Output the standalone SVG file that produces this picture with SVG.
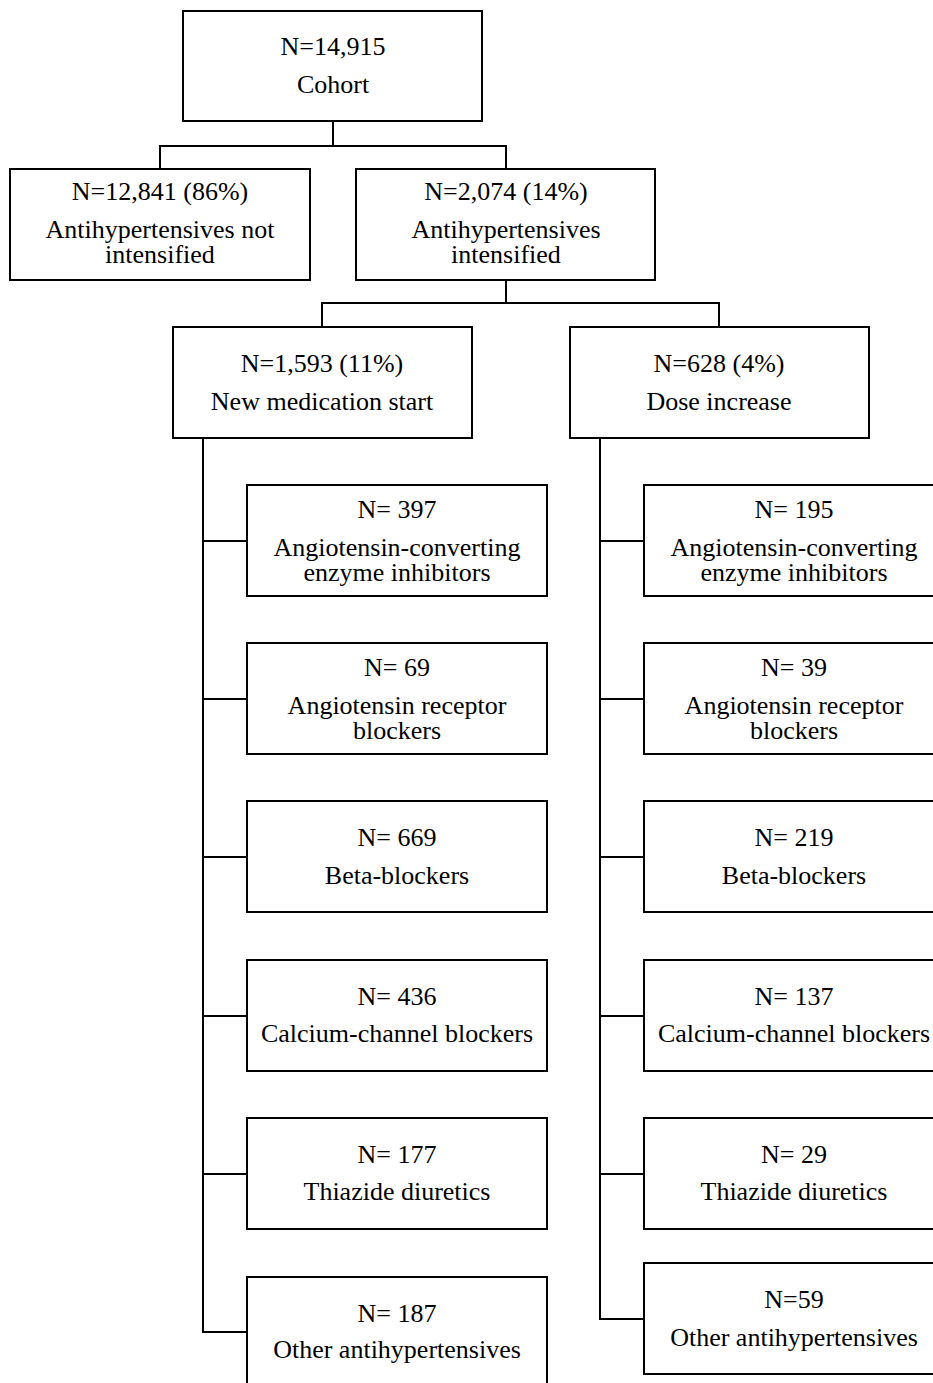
<svg xmlns="http://www.w3.org/2000/svg" width="933" height="1383" viewBox="0 0 933 1383">
<style>
.box{fill:#fff;stroke:#000;stroke-width:2}
.t{font-family:"Liberation Serif","Times New Roman",serif;font-size:26px;fill:#000;text-anchor:middle}
.c{fill:none;stroke:#000;stroke-width:2;stroke-linecap:square}
</style>
<rect width="933" height="1383" fill="#fff"/>
<g id="connectors">
<path class="c" d="M333 121V146M160 169V146H506V169"/>
<path class="c" d="M506 280V303M322 327V303H719V327"/>
<path class="c" d="M203 438V1332H247M203 541H247M203 699H247M203 857H247M203 1016H247M203 1174H247"/>
<path class="c" d="M600 438V1319H644M600 541H644M600 699H644M600 857H644M600 1016H644M600 1174H644"/>
</g>
<g id="cohort"><rect class="box" x="183" y="11" width="299" height="110"/><text class="t" x="333" y="55">N=14,915</text><text class="t" x="333" y="93">Cohort</text></g>
<g id="not-intensified"><rect class="box" x="10" y="169" width="300" height="111"/><text class="t" x="160" y="200">N=12,841 (86%)</text><text class="t" x="160" y="238">Antihypertensives not</text><text class="t" x="160" y="263">intensified</text></g>
<g id="intensified"><rect class="box" x="356" y="169" width="299" height="111"/><text class="t" x="506" y="200">N=2,074 (14%)</text><text class="t" x="506" y="238">Antihypertensives</text><text class="t" x="506" y="263">intensified</text></g>
<g id="new-med"><rect class="box" x="173" y="327" width="299" height="111"/><text class="t" x="322" y="372">N=1,593 (11%)</text><text class="t" x="322" y="410">New medication start</text></g>
<g id="dose"><rect class="box" x="570" y="327" width="299" height="111"/><text class="t" x="719" y="372">N=628 (4%)</text><text class="t" x="719" y="410">Dose increase</text></g>

<g id="n-ace"><rect class="box" x="247" y="485" width="300" height="111"/><text class="t" x="397" y="518">N= 397</text><text class="t" x="397" y="556">Angiotensin-converting</text><text class="t" x="397" y="581">enzyme inhibitors</text></g>
<g id="n-arb"><rect class="box" x="247" y="643" width="300" height="111"/><text class="t" x="397" y="676">N= 69</text><text class="t" x="397" y="714">Angiotensin receptor</text><text class="t" x="397" y="739">blockers</text></g>
<g id="n-bb"><rect class="box" x="247" y="801" width="300" height="111"/><text class="t" x="397" y="846">N= 669</text><text class="t" x="397" y="884">Beta-blockers</text></g>
<g id="n-ccb"><rect class="box" x="247" y="960" width="300" height="111"/><text class="t" x="397" y="1005">N= 436</text><text class="t" x="397" y="1042">Calcium-channel blockers</text></g>
<g id="n-thz"><rect class="box" x="247" y="1118" width="300" height="111"/><text class="t" x="397" y="1163">N= 177</text><text class="t" x="397" y="1200">Thiazide diuretics</text></g>
<g id="n-oth"><rect class="box" x="247" y="1277" width="300" height="111"/><text class="t" x="397" y="1322">N= 187</text><text class="t" x="397" y="1358">Other antihypertensives</text></g>

<g id="d-ace"><rect class="box" x="644" y="485" width="300" height="111"/><text class="t" x="794" y="518">N= 195</text><text class="t" x="794" y="556">Angiotensin-converting</text><text class="t" x="794" y="581">enzyme inhibitors</text></g>
<g id="d-arb"><rect class="box" x="644" y="643" width="300" height="111"/><text class="t" x="794" y="676">N= 39</text><text class="t" x="794" y="714">Angiotensin receptor</text><text class="t" x="794" y="739">blockers</text></g>
<g id="d-bb"><rect class="box" x="644" y="801" width="300" height="111"/><text class="t" x="794" y="846">N= 219</text><text class="t" x="794" y="884">Beta-blockers</text></g>
<g id="d-ccb"><rect class="box" x="644" y="960" width="300" height="111"/><text class="t" x="794" y="1005">N= 137</text><text class="t" x="794" y="1042">Calcium-channel blockers</text></g>
<g id="d-thz"><rect class="box" x="644" y="1118" width="300" height="111"/><text class="t" x="794" y="1163">N= 29</text><text class="t" x="794" y="1200">Thiazide diuretics</text></g>
<g id="d-oth"><rect class="box" x="644" y="1263" width="300" height="111"/><text class="t" x="794" y="1308">N=59</text><text class="t" x="794" y="1346">Other antihypertensives</text></g>
</svg>
